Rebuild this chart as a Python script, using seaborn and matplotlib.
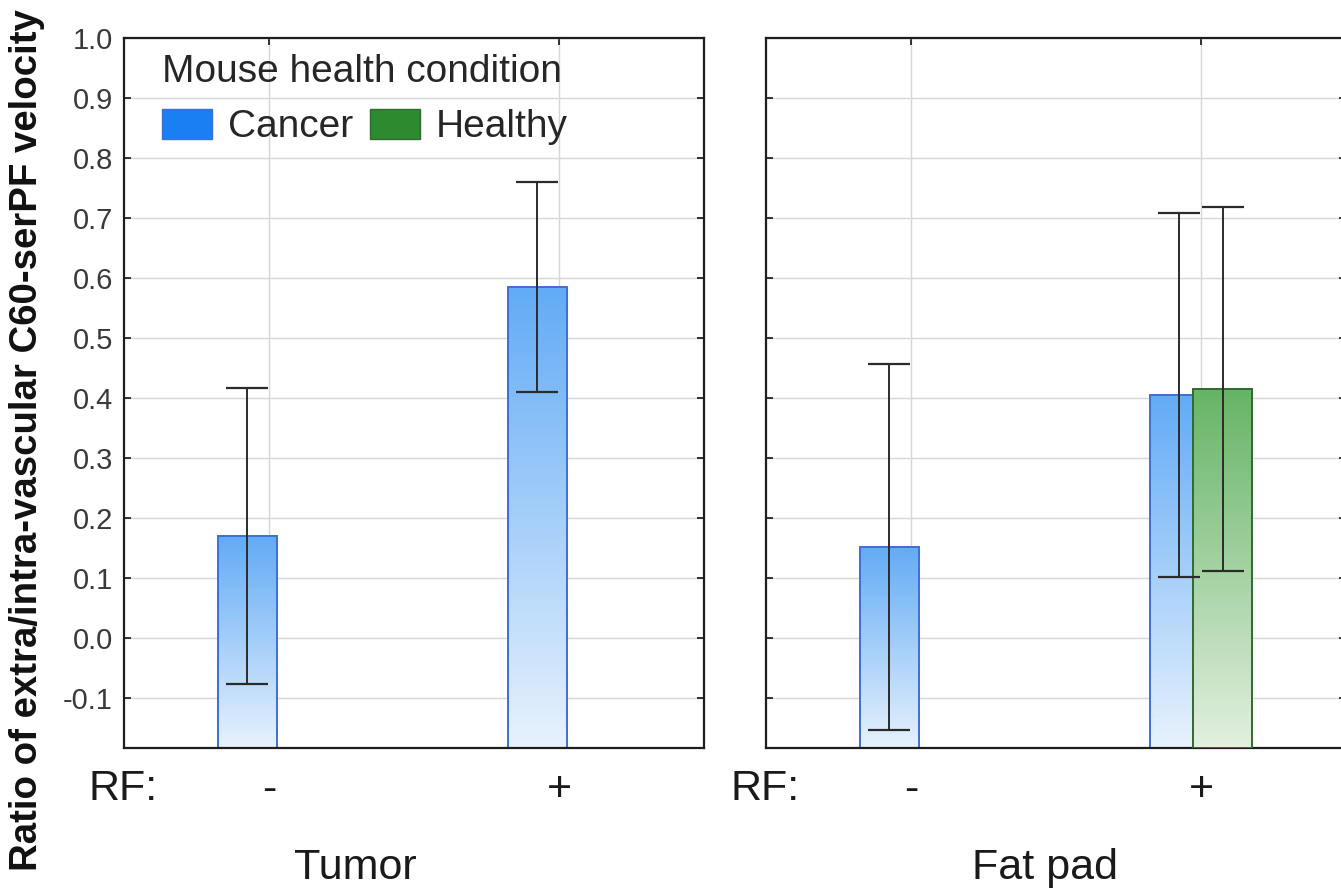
import numpy as np
import pandas as pd
import matplotlib
matplotlib.use("Agg")
import matplotlib.pyplot as plt
import seaborn as sns
from matplotlib.patches import Patch
from matplotlib.colors import LinearSegmentedColormap

# data
tissue = ["Tumor", "Tumor", "Fat pad", "Fat pad", "Fat pad"]
rf = ["-", "+", "-", "+", "+"]
condition = ["Cancer", "Cancer", "Cancer", "Cancer", "Healthy"]
ratio_mean = [0.170, 0.585, 0.152, 0.405, 0.415]
ratio_err = [0.247, 0.175, 0.305, 0.303, 0.303]

tissues = ["Tumor", "Fat pad"]
rf_order = ["-", "+"]
conditions = ["Cancer", "Healthy"]
y_ticks = [-0.1, 0.0, 0.1, 0.2, 0.3, 0.4, 0.5, 0.6, 0.7, 0.8, 0.9, 1.0]

df = pd.DataFrame({"tissue": tissue, "rf": rf, "condition": condition,
                   "mean": ratio_mean, "err": ratio_err})

sns.set_style("ticks")
plt.rcParams["font.family"] = ["Liberation Sans", "DejaVu Sans"]
plt.rcParams["axes.unicode_minus"] = False

YMIN, YMAX = -0.183, 1.0
handle_colors = {"Cancer": "#1a7ff2", "Healthy": "#2e8a2e"}
edge_colors = {"Cancer": "#3d6fd6", "Healthy": "#2f6a2f"}
grad = {
    "Cancer": LinearSegmentedColormap.from_list("c", ["#e8f2fd", "#62abf6"]),
    "Healthy": LinearSegmentedColormap.from_list("h", ["#e2f0df", "#66b466"]),
}

fig = plt.figure(figsize=(13.41, 8.91), dpi=100)
ax_w = 580 / 1341
ax_h = (748 - 38) / 891
ax_b = 1 - 748 / 891
axes = [fig.add_axes([124 / 1341, ax_b, ax_w, ax_h]),
        fig.add_axes([766 / 1341, ax_b, ax_w, ax_h])]

for ax, t in zip(axes, tissues):
    sub = df[df.tissue == t]
    sns.barplot(data=sub, x="rf", y="mean", hue="condition", order=rf_order,
                hue_order=conditions, palette=handle_colors, dodge=True,
                width=0.30, errorbar=None, legend=False, ax=ax)
    ax.set_xlim(-0.5, 1.5)
    ax.set_ylim(YMIN, YMAX)

    xs, ys, es = [], [], []
    for bar in list(ax.patches):
        h = bar.get_height()
        row = sub.iloc[int(np.argmin(np.abs(sub["mean"].values - h)))]
        k = conditions.index(row["condition"])
        xc = bar.get_x() + bar.get_width() / 2
        w = 0.203
        bar.set_x(xc - w / 2)
        bar.set_width(w)
        bar.set_y(YMIN)
        bar.set_height(h - YMIN)
        bar.set_facecolor("none")
        bar.set_edgecolor(edge_colors[row["condition"]])
        bar.set_linewidth(1.4)
        bar.set_zorder(1.5 + 2 * k)
        g = np.linspace(0, 1, 256).reshape(-1, 1)
        ax.imshow(g, cmap=grad[row["condition"]], origin="lower", aspect="auto",
                  extent=(xc - w / 2, xc + w / 2, YMIN, h), zorder=1 + 2 * k)
        xs.append(xc)
        ys.append(h)
        es.append(row["err"])

    ax.errorbar(xs, ys, yerr=es, fmt="none", ecolor="#2b2b2b", elinewidth=1.4,
                capsize=15, capthick=1.6, zorder=10)
    ax.set_xlim(-0.5, 1.5)
    ax.set_ylim(YMIN, YMAX)
    ax.set_yticks(y_ticks)
    ax.set_axisbelow(True)
    ax.grid(True, color="#d6d6d6", linewidth=1.0)
    ax.set_xlabel("")
    ax.set_ylabel("")
    ax.tick_params(direction="in", length=5, width=1.3, top=True, right=True,
                   colors="#222222")
    ax.tick_params(axis="x", labelsize=31, pad=16, labelcolor="#1a1a1a")
    ax.tick_params(axis="y", labelsize=21, pad=8, labelcolor="#3a3a3a")
    for s in ax.spines.values():
        s.set_linewidth(1.6)
        s.set_color("#1e1e1e")
    ax.set_xticks([0, 1])
    ax.set_xticklabels(rf_order)

axes[1].tick_params(axis="y", labelleft=False)

for x_px in (88, 730):
    fig.text(x_px / 1341, 1 - 789 / 891, "RF:", fontsize=31, va="center",
             ha="left", color="#1a1a1a")
fig.text(355 / 1341, 1 - 868 / 891, "Tumor", fontsize=31, va="center", ha="center", color="#1a1a1a")
fig.text(1045 / 1341, 1 - 868 / 891, "Fat pad", fontsize=31, va="center", ha="center", color="#1a1a1a")
fig.text(27 / 1341, 1 - 440 / 891, "Ratio of extra/intra-vascular C60-serPF velocity",
         fontsize=27.6, fontweight="bold", rotation=90, va="center", ha="center",
         color="#111111")

handles = [Patch(facecolor=handle_colors[c], edgecolor=edge_colors[c], label=c)
           for c in conditions]
leg = axes[0].legend(handles=handles, title="Mouse health condition", ncol=2,
                     loc="upper left", bbox_to_anchor=(0.066, 0.978), frameon=False,
                     fontsize=28, title_fontsize=28, handlelength=1.28,
                     handleheight=0.8, handletextpad=0.4, columnspacing=0.45,
                     borderpad=0, borderaxespad=0, alignment="left")

fig.savefig("out.png", dpi=100)
